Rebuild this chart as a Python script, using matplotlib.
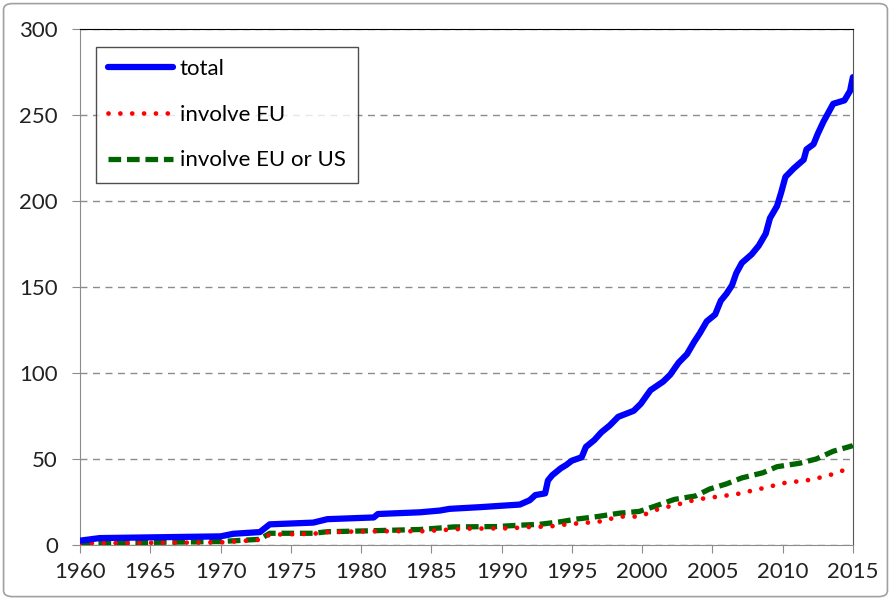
import numpy as np
import matplotlib
matplotlib.use('Agg')
import matplotlib.pyplot as plt
from matplotlib.patches import FancyBboxPatch

plt.rcParams['font.family'] = ['Lato', 'DejaVu Sans']

# cumulative counts
total_yr = [1960, 1961.4, 1970, 1970.9, 1972.8, 1973.5, 1976.6, 1977.6, 1980.9, 1981.2,
            1984.2, 1985.6, 1986.3, 1988.5, 1991.3, 1992.0, 1992.4, 1993.1, 1993.3, 1993.6,
            1994.2, 1994.6, 1995.0, 1995.7, 1996.0, 1996.6, 1997.1, 1997.7, 1998.3, 1999.4,
            1999.9, 2000.6, 2001.5, 2002.0, 2002.6, 2003.2, 2003.7, 2004.1, 2004.6, 2005.2,
            2005.6, 2006.0, 2006.4, 2006.7, 2007.1, 2007.8, 2008.3, 2008.8, 2009.1, 2009.6,
            2009.9, 2010.2, 2010.8, 2011.5, 2011.7, 2012.2, 2012.5, 2012.9, 2013.6, 2014.4,
            2014.8, 2015]
total = [2.5, 4, 5, 6.5, 7.5, 12, 13, 15, 16, 18,
         19, 20, 21, 22, 23.5, 26, 29, 30, 37.5, 40.5,
         44.5, 46.5, 49, 51, 57, 61, 65.5, 69.5, 74.5, 78,
         82, 90, 95, 99, 106, 111, 118, 123, 130, 134,
         142, 146, 151, 158, 164, 169, 174, 181, 190, 197,
         205, 214, 219, 224, 230, 233, 239, 246, 256.5, 258.5,
         264, 272]

eu_yr = [1960, 1970, 1972.8, 1973.5, 1976.6, 1977.6, 1980.9, 1984.4, 1987.5, 1990.6,
         1992.0, 1993.4, 1994.2, 1995.5, 1996.9, 1998.4, 1999.8, 2001.2, 2002.5, 2003.9,
         2005.3, 2006.7, 2008.6, 2010.1, 2012.1, 2013.5, 2014.7, 2015]
eu = [1, 1.5, 3, 6, 6.5, 7.5, 8, 8, 9.5, 9.7,
      10.5, 10.7, 11.6, 12.6, 13.5, 16.5, 16.5, 21, 23.5, 26.5,
      28, 29.5, 33, 36, 38, 41, 44.5, 46]

euus_yr = [1960, 1970, 1972.8, 1973.5, 1976.6, 1977.6, 1980.9, 1984.2, 1986.6, 1989.6,
           1991.3, 1992.7, 1994.2, 1995.3, 1996.8, 1998.4, 1999.8, 2000.9, 2002.3, 2003.8,
           2004.8, 2006.0, 2007.1, 2008.6, 2009.6, 2011.2, 2012.4, 2013.6, 2014.9, 2015]
euus = [1, 2, 3.3, 6.8, 6.8, 7.7, 8.3, 9, 10.5, 10.7,
        11.5, 12, 13.5, 15, 16.5, 18.5, 19.5, 22.5, 26.5, 28.5,
        32.5, 35.5, 39, 42, 45.5, 47.5, 50, 54.5, 57.5, 58]

fig = plt.figure(figsize=(8.91, 5.99), dpi=100)
ax = fig.add_axes([0.0898, 0.0902, 0.8674, 0.8614])

ax.plot(euus_yr, euus, color='#006400', lw=3.8, linestyle=(0, (2.4, 1.1)),
        dash_capstyle='butt', label='involve EU or US', zorder=3)
ax.plot(eu_yr, eu, color='red', lw=3.4, linestyle=(0, (0.01, 2.5)),
        dash_capstyle='round', label='involve EU', zorder=4)
ax.plot(total_yr, total, color='blue', lw=4.5, solid_capstyle='round',
        solid_joinstyle='round', label='total', zorder=5)

ax.set_xlim(1960, 2015)
ax.set_ylim(0, 300)
ax.set_xticks(np.arange(1960, 2016, 5))
ax.set_yticks(np.arange(0, 301, 50))
ax.yaxis.grid(True, linestyle=(0, (5, 4)), color='#8c8c8c', lw=1)
ax.set_axisbelow(True)

for side in ['left', 'bottom']:
    ax.spines[side].set_color('#8c8c8c')
ax.spines['top'].set_color('black')
ax.spines['right'].set_color('#555555')
ax.tick_params(axis='both', direction='out', length=6, color='#8c8c8c',
               labelsize=16, labelcolor='#222222')
ax.tick_params(axis='x', pad=6)
ax.tick_params(axis='y', pad=10)

h, l = ax.get_legend_handles_labels()
order = [2, 1, 0]
leg = ax.legend([h[i] for i in order], [l[i] for i in order], loc='upper left',
                bbox_to_anchor=(0.021, 0.965), fontsize=16, frameon=True, fancybox=False,
                edgecolor='#222222', handlelength=2.9, handletextpad=0.3,
                labelspacing=1.15, borderpad=0.55, borderaxespad=0)
leg.get_frame().set_linewidth(1)

fig.patches.append(FancyBboxPatch((0.004, 0.004), 0.992, 0.99, boxstyle='round,pad=0,rounding_size=0.01',
                                  transform=fig.transFigure, fill=False,
                                  edgecolor='#a0a0a0', lw=1.2))

fig.savefig('out.png', dpi=100)
